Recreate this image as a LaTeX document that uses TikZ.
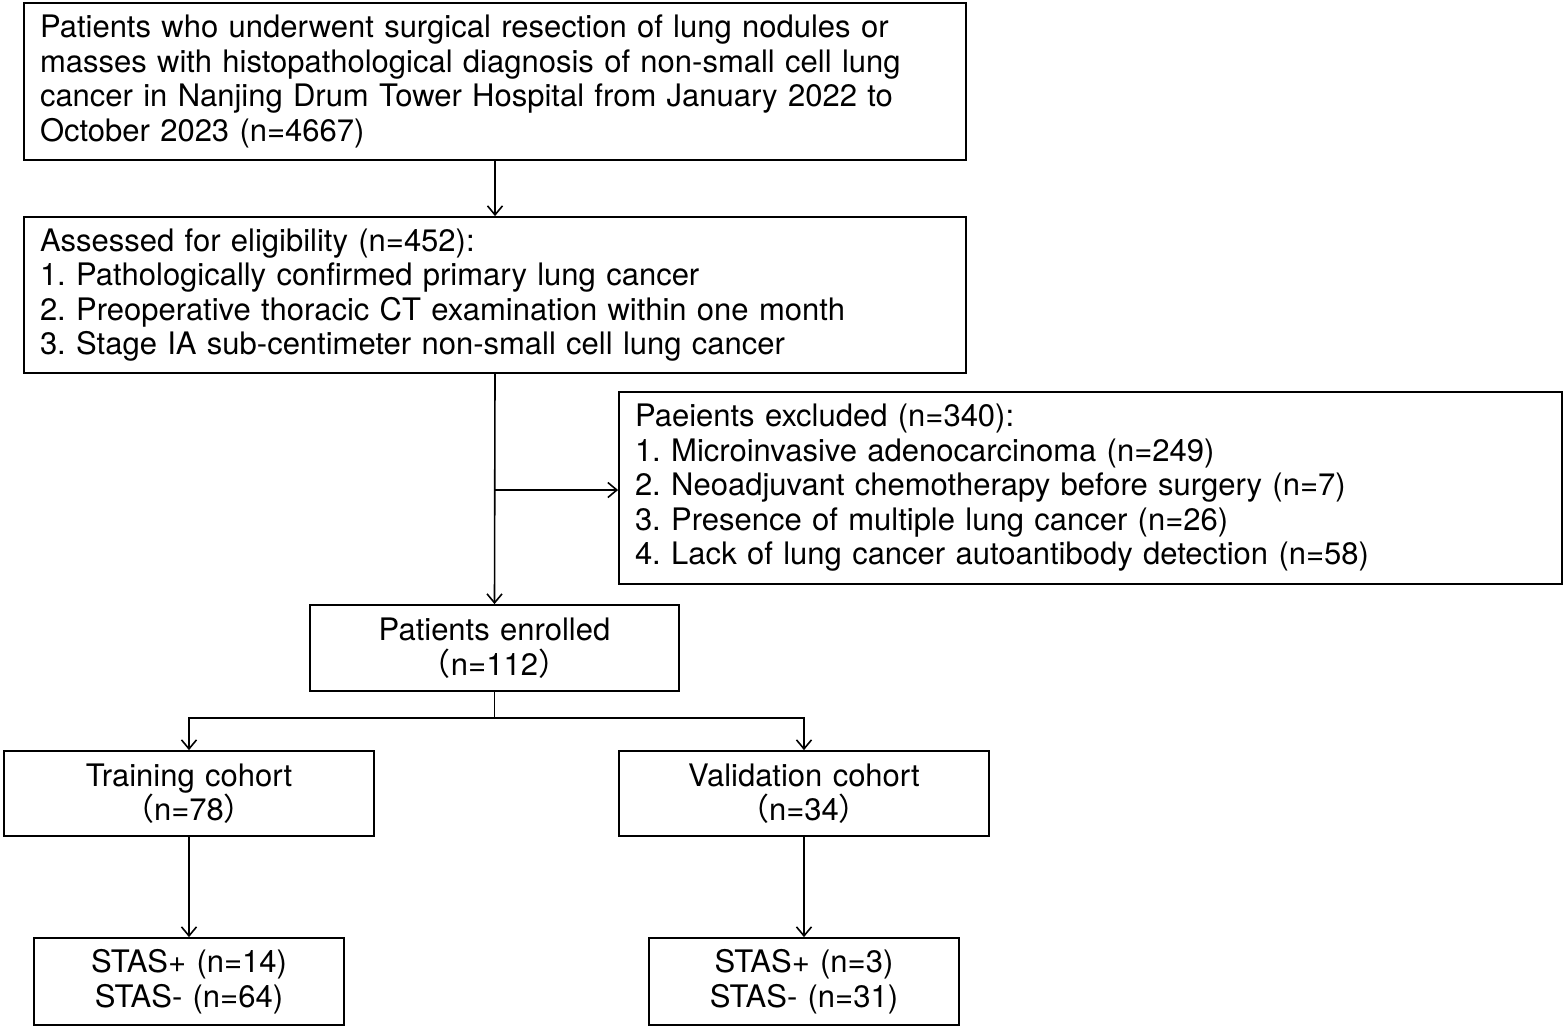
\documentclass[tikz,border=0pt]{standalone}
\usepackage{fontspec}
\setmainfont{TeX Gyre Heros}
\newfontfamily\cjk{Noto Sans CJK SC}
\usetikzlibrary{arrows.meta}
\newcommand{\lp}{{\cjk （}}
\newcommand{\rp}{{\cjk ）}}
\frenchspacing
\begin{document}
\begin{tikzpicture}[x=1pt,y=-1pt,
  box/.style={draw=black,line width=1.8pt,inner xsep=16pt,inner ysep=0pt,
    font=\fontsize{31}{34.5}\selectfont},
  lbox/.style={box,align=left},
  cbox/.style={box,align=center},
  conn/.style={line width=1.6pt},
  arr/.style={conn,-{Straight Barb[length=9pt,width=15pt,line width=1.6pt]}}]
\useasboundingbox (0,0) rectangle (1565,1029);
\node[lbox,minimum width=942pt,minimum height=157pt,text width=910pt] (b1) at (495,81.5)
 {Patients who underwent surgical resection of lung nodules or\\masses with histopathological diagnosis of non-small cell lung\\cancer in Nanjing Drum Tower Hospital from January 2022 to\\October 2023 (n=4667)};
\node[lbox,minimum width=942pt,minimum height=156pt,text width=910pt] (b2) at (495,295)
 {Assessed for eligibility (n=452):\\1. Pathologically confirmed primary lung cancer\\2. Preoperative thoracic CT examination within one month\\3. Stage IA sub-centimeter non-small cell lung cancer};
\node[lbox,minimum width=943pt,minimum height=192pt,text width=911pt] (b3) at (1090.5,488)
 {Paeients excluded (n=340):\\1. Microinvasive adenocarcinoma (n=249)\\2. Neoadjuvant chemotherapy before surgery (n=7)\\3. Presence of multiple lung cancer (n=26)\\4. Lack of lung cancer autoantibody detection (n=58)};
\node[cbox,minimum width=369pt,minimum height=86pt,text width=337pt] (b4) at (494.5,648)
 {Patients enrolled\\\lp n=112\rp};
\node[cbox,minimum width=370pt,minimum height=85pt,text width=338pt] (b5) at (189,793.5)
 {Training cohort\\\lp n=78\rp};
\node[cbox,minimum width=370pt,minimum height=85pt,text width=338pt] (b6) at (804,793.5)
 {Validation cohort\\\lp n=34\rp};
\node[cbox,minimum width=310pt,minimum height=87pt,text width=278pt] (b7) at (189,981.5)
 {STAS+ (n=14)\\STAS- (n=64)};
\node[cbox,minimum width=310pt,minimum height=87pt,text width=278pt] (b8) at (804,981.5)
 {STAS+ (n=3)\\STAS- (n=31)};
\coordinate (br) at (495,490);
\coordinate (sp) at (494.5,718);
\draw[arr] (b1.south) -- (b2.north);
\draw[arr] (b2.south) -- (b4.north);
\draw[arr] (br) -- (br -| b3.west);
\draw[conn] (b4.south) -- (sp);
\draw[arr] (sp) -| (b5.north);
\draw[arr] (sp) -| (b6.north);
\draw[arr] (b5.south) -- (b7.north);
\draw[arr] (b6.south) -- (b8.north);
\end{tikzpicture}
\end{document}
